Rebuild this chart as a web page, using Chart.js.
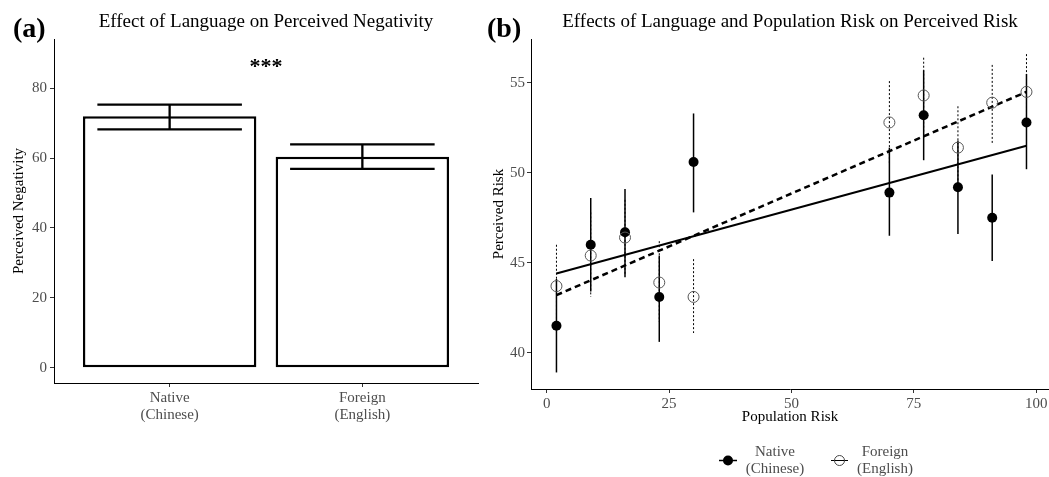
<!DOCTYPE html>
<html>
<head>
<meta charset="utf-8">
<script src="https://cdn.jsdelivr.net/npm/chart.js@4.4.0/dist/chart.umd.min.js"></script>
<style>
  body { margin: 0; background: #fff; width: 1049px; height: 477px; overflow: hidden; position: relative; }
  #wrapA { position: absolute; left: 0; top: 0; width: 480px; height: 477px; }
  #wrapB { position: absolute; left: 480px; top: 0; width: 569px; height: 477px; }
</style>
</head>
<body>
<div id="wrapA"><canvas id="chartA"></canvas></div>
<div id="wrapB"><canvas id="chartB"></canvas></div>
<script>
// ---- panel (a) data ----
const langLabels = [['Native', '(Chinese)'], ['Foreign', '(English)']];
const langPos = [1, 2];
const negMean = [72.0, 60.4];
const negLow = [68.2, 56.9];
const negHigh = [75.3, 63.9];
const negTicks = [0, 20, 40, 60, 80];
const sigLabel = '***';
const sigPos = [1.5, 84.4];

// ---- panel (b) data ----
const popRisk = [2, 9, 16, 23, 30, 70, 77, 84, 91, 98];
const nativeRisk = [41.5, 46.0, 46.7, 43.1, 50.6, 48.9, 53.2, 49.2, 47.5, 52.8];
const nativeLow = [38.9, 43.4, 44.2, 40.6, 47.8, 46.5, 50.7, 46.6, 45.1, 50.2];
const nativeHigh = [44.1, 48.6, 49.1, 45.4, 53.3, 51.4, 55.7, 51.8, 49.9, 55.5];
const foreignRisk = [43.7, 45.4, 46.4, 43.9, 43.1, 52.8, 54.3, 51.4, 53.9, 54.5];
const foreignLow = [41.4, 43.1, 44.3, 41.7, 41.1, 50.5, 52.0, 49.2, 51.6, 52.4];
const foreignHigh = [46.0, 47.8, 48.5, 46.2, 45.2, 55.1, 56.4, 53.7, 56.0, 56.6];
const fitX = [2, 98];
const nativeFit = [44.4, 51.5];
const foreignFit = [43.2, 54.5];
const riskXTicks = [0, 25, 50, 75, 100];
const riskYTicks = [40, 45, 50, 55];
const legendLabels = [['Native', '(Chinese)'], ['Foreign', '(English)']];

const serif = "'Liberation Serif', 'Times New Roman', serif";
Chart.defaults.font.family = serif;
Chart.defaults.animation = false;

const tickGrey = '#4d4d4d';
const axisGrid = { drawOnChartArea: false, drawTicks: true, tickLength: 4, color: '#333', offset: false };
const axisBorder = { display: true, color: '#000', width: 1 };
const noEdgePad = s => { s.paddingLeft = 0; s.paddingRight = 0; s.paddingTop = 0; s.paddingBottom = 0; };

// titles and panel letters
const panelText = {
  id: 'panelText',
  afterDraw(chart, args, opts) {
    const { ctx, chartArea } = chart;
    ctx.save();
    ctx.fillStyle = '#000';
    ctx.textBaseline = 'alphabetic';
    ctx.font = `bold 28px ${serif}`;
    ctx.textAlign = 'left';
    ctx.fillText(opts.tag, opts.tagX, 37);
    ctx.font = `19px ${serif}`;
    ctx.textAlign = 'center';
    ctx.fillText(opts.title, (chartArea.left + chartArea.right) / 2, 27);
    ctx.restore();
  }
};

// error bars + stars for the bar chart
const barErrors = {
  id: 'barErrors',
  afterDatasetsDraw(chart) {
    const { ctx, scales: { x, y } } = chart;
    const capHalf = 0.375;
    ctx.save();
    ctx.strokeStyle = '#000';
    ctx.lineWidth = 2.3;
    langPos.forEach((p, i) => {
      const xl = x.getPixelForValue(p - capHalf);
      const xr = x.getPixelForValue(p + capHalf);
      const xc = x.getPixelForValue(p);
      const yl = y.getPixelForValue(negLow[i]);
      const yh = y.getPixelForValue(negHigh[i]);
      ctx.beginPath();
      ctx.moveTo(xl, yh); ctx.lineTo(xr, yh);
      ctx.moveTo(xl, yl); ctx.lineTo(xr, yl);
      ctx.moveTo(xc, yh); ctx.lineTo(xc, yl);
      ctx.stroke();
    });
    ctx.fillStyle = '#000';
    ctx.font = `bold 22px ${serif}`;
    ctx.textAlign = 'center';
    ctx.textBaseline = 'alphabetic';
    ctx.fillText(sigLabel, x.getPixelForValue(sigPos[0]), y.getPixelForValue(sigPos[1]));
    ctx.restore();
  }
};

new Chart(document.getElementById('chartA'), {
  type: 'bar',
  data: {
    datasets: [{
      data: langPos.map((p, i) => ({ x: p, y: negMean[i] })),
      backgroundColor: '#fff',
      borderColor: '#000',
      borderWidth: 2.5,
      borderSkipped: false,
      barPercentage: 1,
      categoryPercentage: 0.9
    }]
  },
  options: {
    responsive: true,
    maintainAspectRatio: false,
    layout: { autoPadding: false, padding: { left: 6, top: 39, right: 2, bottom: 0 } },
    plugins: {
      legend: { display: false },
      tooltip: { enabled: false },
      panelText: { tag: '(a)', tagX: 13, title: 'Effect of Language on Perceived Negativity' }
    },
    scales: {
      x: {
        type: 'linear', min: 0.4, max: 2.6, offset: false,
        afterBuildTicks: s => { s.ticks = langPos.map(v => ({ value: v })); },
        afterFit: s => { s.height = 94; noEdgePad(s); },
        ticks: {
          callback: v => langLabels[langPos.indexOf(v)],
          color: tickGrey, font: { size: 15, lineHeight: 1.15 }, padding: 2,
          maxRotation: 0, autoSkip: false
        },
        grid: axisGrid, border: axisBorder
      },
      y: {
        min: -4.4, max: 94.1,
        afterBuildTicks: s => { s.ticks = negTicks.map(v => ({ value: v })); },
        afterFit: s => { s.width = 48; noEdgePad(s); },
        ticks: { color: tickGrey, font: { size: 15 }, padding: 3 },
        grid: axisGrid, border: axisBorder,
        title: { display: true, text: 'Perceived Negativity', color: '#000', font: { size: 15 }, padding: { top: 4, bottom: 0 } }
      }
    }
  },
  plugins: [barErrors, panelText]
});

// error bars for the scatter panel
const pointErrors = {
  id: 'pointErrors',
  beforeDatasetsDraw(chart) {
    const { ctx, scales: { x, y } } = chart;
    ctx.save();
    chart.data.datasets.forEach(ds => {
      if (!ds.errLow) return;
      ctx.strokeStyle = ds.errColor;
      ctx.lineWidth = ds.errWidth;
      ctx.setLineDash(ds.errDash);
      popRisk.forEach((p, i) => {
        const px = x.getPixelForValue(p);
        ctx.beginPath();
        ctx.moveTo(px, y.getPixelForValue(ds.errHigh[i]));
        ctx.lineTo(px, y.getPixelForValue(ds.errLow[i]));
        ctx.stroke();
      });
    });
    ctx.restore();
  }
};

// legend below panel (b)
const riskLegend = {
  id: 'riskLegend',
  afterDraw(chart) {
    const { ctx } = chart;
    const my = 460.5;
    ctx.save();
    // native key
    ctx.strokeStyle = '#000';
    ctx.lineWidth = 1.5;
    ctx.beginPath(); ctx.moveTo(239, my); ctx.lineTo(257, my); ctx.stroke();
    ctx.fillStyle = '#000';
    ctx.beginPath(); ctx.arc(248, my, 5, 0, Math.PI * 2); ctx.fill();
    // foreign key
    ctx.lineWidth = 1;
    ctx.beginPath(); ctx.moveTo(351, my); ctx.lineTo(368, my); ctx.stroke();
    ctx.strokeStyle = '#444';
    ctx.beginPath(); ctx.arc(359.5, my, 5, 0, Math.PI * 2); ctx.stroke();
    ctx.fillStyle = tickGrey;
    ctx.font = `15px ${serif}`;
    ctx.textAlign = 'center';
    ctx.textBaseline = 'middle';
    [295, 405].forEach((cx, k) => {
      ctx.fillText(legendLabels[k][0], cx, 452);
      ctx.fillText(legendLabels[k][1], cx, 469);
    });
    ctx.restore();
  }
};

new Chart(document.getElementById('chartB'), {
  type: 'scatter',
  data: {
    datasets: [
      {
        label: 'Foreign (English)',
        data: popRisk.map((p, i) => ({ x: p, y: foreignRisk[i] })),
        pointRadius: 5.5, pointBorderWidth: 1,
        pointBackgroundColor: 'rgba(0,0,0,0)', pointBorderColor: '#555',
        errLow: foreignLow, errHigh: foreignHigh, errColor: '#000', errWidth: 1, errDash: [2, 2]
      },
      {
        label: 'Native (Chinese)',
        data: popRisk.map((p, i) => ({ x: p, y: nativeRisk[i] })),
        pointRadius: 5, pointBorderWidth: 0,
        pointBackgroundColor: '#000', pointBorderColor: '#000',
        errLow: nativeLow, errHigh: nativeHigh, errColor: '#000', errWidth: 1.5, errDash: []
      },
      {
        label: 'Foreign fit',
        data: fitX.map((p, i) => ({ x: p, y: foreignFit[i] })),
        showLine: true, pointRadius: 0, borderColor: '#000', borderWidth: 2.5, borderDash: [6, 4]
      },
      {
        label: 'Native fit',
        data: fitX.map((p, i) => ({ x: p, y: nativeFit[i] })),
        showLine: true, pointRadius: 0, borderColor: '#000', borderWidth: 2
      }
    ]
  },
  options: {
    responsive: true,
    maintainAspectRatio: false,
    layout: { autoPadding: false, padding: { left: 6, top: 39, right: 0, bottom: 47 } },
    plugins: {
      legend: { display: false },
      tooltip: { enabled: false },
      panelText: { tag: '(b)', tagX: 7, title: 'Effects of Language and Population Risk on Perceived Risk' }
    },
    scales: {
      x: {
        type: 'linear', min: -3.2, max: 102.6,
        afterBuildTicks: s => { s.ticks = riskXTicks.map(v => ({ value: v })); },
        afterFit: s => { s.height = 41; noEdgePad(s); },
        ticks: { color: tickGrey, font: { size: 15, lineHeight: 1.15 }, padding: 2, maxRotation: 0 },
        grid: axisGrid, border: axisBorder,
        title: { display: true, text: 'Population Risk', color: '#000', font: { size: 15 }, padding: { top: 0, bottom: 4 } }
      },
      y: {
        min: 37.98, max: 57.44,
        afterBuildTicks: s => { s.ticks = riskYTicks.map(v => ({ value: v })); },
        afterFit: s => { s.width = 45; noEdgePad(s); },
        ticks: { color: tickGrey, font: { size: 15 }, padding: 2 },
        grid: axisGrid, border: axisBorder,
        title: { display: true, text: 'Perceived Risk', color: '#000', font: { size: 15 }, padding: { top: 4, bottom: 0 } }
      }
    }
  },
  plugins: [pointErrors, riskLegend, panelText]
});
</script>
</body>
</html>
